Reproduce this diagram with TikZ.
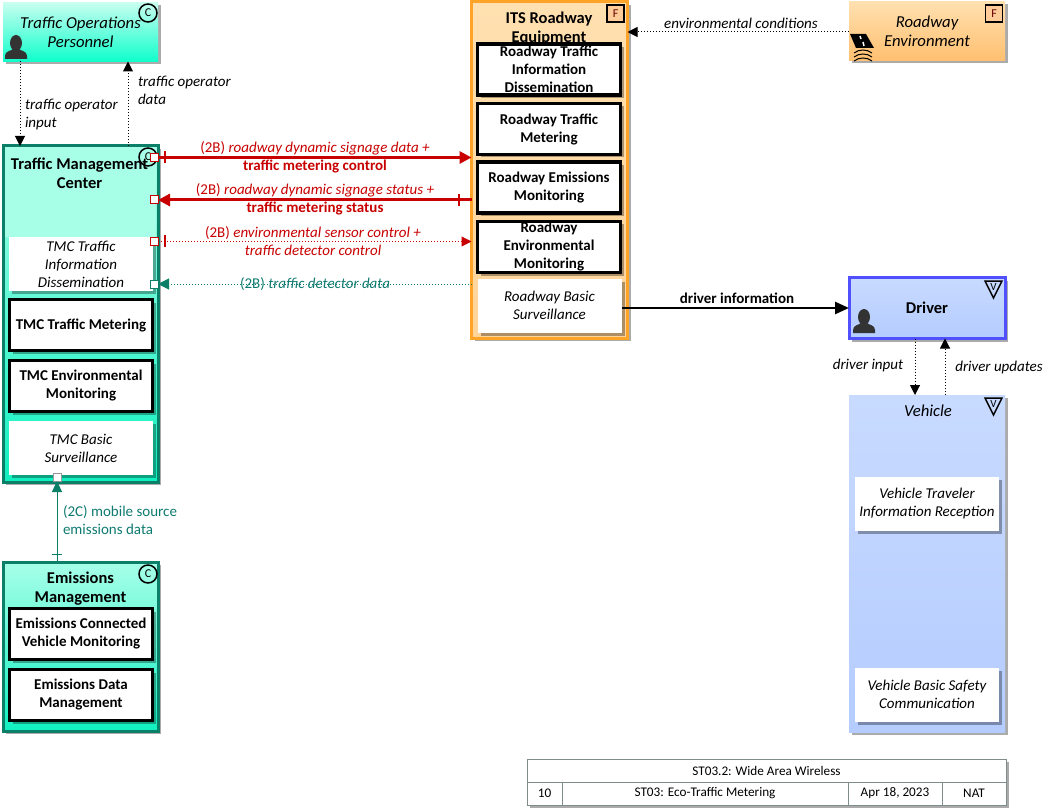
\documentclass[tikz,border=0pt]{standalone}
\usepackage{fontspec}
\setmainfont{Carlito}
\usepackage{tikz}
\usetikzlibrary{arrows.meta, shadows, calc}
\definecolor{tealline}{HTML}{0B7F68}
\definecolor{tealtext}{HTML}{0F7A70}
\definecolor{tealtop}{HTML}{A8FFE8}
\definecolor{tealbottom}{HTML}{10F0C0}
\definecolor{optop}{HTML}{C8FFF0}
\definecolor{opbottom}{HTML}{10FFCC}
\definecolor{redline}{HTML}{C80000}
\definecolor{orangeline}{HTML}{FFA426}
\definecolor{orangetop}{HTML}{FFE0B0}
\definecolor{orangebottom}{HTML}{FFC070}
\definecolor{itsbottom}{HTML}{FFD498}
\definecolor{blueline}{HTML}{5050FF}
\definecolor{bluetop}{HTML}{C8DAFF}
\definecolor{bluebottom}{HTML}{B4CCFF}
\definecolor{tablegray}{HTML}{7F8C8C}
\tikzset{
  shadowed/.style={drop shadow={shadow xshift=3pt,shadow yshift=-3pt,fill=black,opacity=.33}},
  base/.style={inner sep=0pt,outer sep=0pt,align=center,font=\fontsize{15}{18}\selectfont},
  subbox/.style={base,shadowed,fill=white,draw=black,line width=3.3pt,minimum width=143pt,minimum height=51pt,font=\fontsize{15}{18}\selectfont\bfseries},
  softbox/.style={base,shadowed,fill=white,minimum width=144pt,minimum height=54pt,font=\fontsize{15}{18}\selectfont\itshape},
  badge/.style={base,draw=black,line width=1.5pt,font=\fontsize{12}{12}\selectfont},
  port/.style={draw=#1,fill=white,line width=1pt,minimum size=8pt,inner sep=0pt,outer sep=0pt},
  label/.style={base,font=\fontsize{15}{18}\selectfont\itshape},
  flowdot/.style={line width=1pt,dash pattern=on 1pt off 2pt},
  cell/.style={base,draw=tablegray,line width=1pt,fill=white,minimum height=23pt,font=\fontsize{13.2}{14}\selectfont},
  person/.pic={
    \fill[black!80] (0,-16) ellipse (6 and 8);
    \fill[black!80] (-11,0) -- (-11,-3) .. controls (-11,-8) and (-5,-8) .. (-3,-10) -- (3,-10) .. controls (5,-8) and (11,-8) .. (11,-3) -- (11,0) -- cycle;
  }
}
\begin{document}
\begin{tikzpicture}[x=1pt,y=-1pt]
\useasboundingbox (0,0) rectangle (1051,810);
% top row actors
\node[base,shadowed,top color=optop,bottom color=opbottom,minimum width=155pt,minimum height=59pt,font=\fontsize{16.7}{19}\selectfont\itshape] (top) at (80.5,32) {Traffic Operations\\Personnel};
\node[base,shadowed,top color=orangetop,bottom color=orangebottom,minimum width=156pt,minimum height=59pt,font=\fontsize{16.7}{19}\selectfont\itshape] (env) at (927,31) {Roadway\\Environment};
\node[badge,circle,minimum size=18pt] (topbadge) at (148,13) {C};
\node[badge,fill=orange!40!white,text=black!60!red,minimum size=17pt] (envbadge) at (994,13.5) {F};
\pic at (16,59) {person};
% road icon
\fill[black] (850,34) -- (866,34) -- (874,48) -- (856,48) -- cycle;
\draw[white,line width=1.5pt] (860,36) -- (861,39) (863,42) -- (864,46);
\draw[black,line width=1pt] (854,53) .. controls (859,49) and (867,49) .. (872,53) (854,57) .. controls (859,53) and (867,53) .. (872,57) (854,61) .. controls (859,57) and (867,57) .. (872,61);
% traffic management center
\node[base,shadowed,draw=tealline,line width=3pt,top color=tealtop,bottom color=tealbottom,minimum width=155pt,minimum height=336pt] (tmc) at (80.5,314) {};
\fill[tealtop] (5,148) rectangle (156,237);
\node[base,font=\fontsize{16.5}{19}\selectfont\bfseries] (tmctitle) at (79.5,173) {Traffic Management\\Center};
\node[badge,circle,minimum size=18pt] (tmcbadge) at (148,157) {C};
\node[softbox] (tmcinfo) at (81,264) {TMC Traffic\\Information\\Dissemination};
\node[subbox] (tmcmeter) at (81,325) {TMC Traffic Metering};
\node[subbox] (tmcenv) at (81,386) {TMC Environmental\\Monitoring};
\node[softbox] (tmcbasic) at (81,448) {TMC Basic\\Surveillance};
% emissions management
\node[base,shadowed,draw=tealline,line width=3pt,top color=tealtop,bottom color=tealbottom,minimum width=155pt,minimum height=169pt] (emm) at (80.5,646.5) {};
\node[base,font=\fontsize{16.5}{19}\selectfont\bfseries] (emmtitle) at (80.5,589) {Emissions\\Management};
\node[badge,circle,minimum size=18pt] (emmbadge) at (148,574) {C};
\node[subbox] (emmcv) at (81,634) {Emissions Connected\\Vehicle Monitoring};
\node[subbox] (emmdata) at (81,695) {Emissions Data\\Management};
% its roadway equipment
\node[base,shadowed,draw=orangeline,line width=3pt,top color=orangetop,bottom color=itsbottom,minimum width=156pt,minimum height=336pt] (its) at (549.5,170) {};
\node[base,font=\fontsize{16.5}{19}\selectfont\bfseries] (itstitle) at (549,28.5) {ITS Roadway\\Equipment};
\node[badge,fill=orange!40!white,text=black!60!red,minimum size=17pt] (itsbadge) at (615.5,13.5) {F};
\node[subbox] (rsinfo) at (549,69.5) {Roadway Traffic\\Information\\Dissemination};
\node[subbox] (rsmeter) at (549,129) {Roadway Traffic\\Metering};
\node[subbox] (rsemis) at (549,187.5) {Roadway Emissions\\Monitoring};
\node[subbox] (rsenv) at (549,247) {Roadway\\Environmental\\Monitoring};
\node[softbox] (rsbasic) at (549.5,305.5) {Roadway Basic\\Surveillance};
% driver and vehicle
\node[base,shadowed,draw=blueline,line width=3pt,top color=bluetop,bottom color=bluebottom,minimum width=156pt,minimum height=61pt,font=\fontsize{16.5}{19}\selectfont\bfseries] (drv) at (927,308) {Driver};
\pic at (864,333) {person};
\node[base,shadowed,top color=bluetop,bottom color=bluebottom,minimum width=156pt,minimum height=337pt] (veh) at (927,563.5) {};
\node[label,font=\fontsize{16.7}{19}\selectfont\itshape] (vehtitle) at (928,411) {Vehicle};
\node[softbox] (vehinfo) at (927,503.5) {Vehicle Traveler\\Information Reception};
\node[softbox] (vehsafe) at (927,694.5) {Vehicle Basic Safety\\Communication};
\foreach \y/\n in {281/drvbadge,398/vehbadge} {
  \draw[black,line width=1.5pt] (985,\y) -- (1002,\y) -- (993.5,\y+17) -- cycle;
  \node[base,font=\fontsize{11}{11}\selectfont] (\n) at (993.5,\y+6) {V};
}
% ports
\node[port=redline] (p1) at (154,157.5) {};
\node[port=redline] (p2) at (154,200) {};
\node[port=redline] (p3) at (154,241.5) {};
\node[port=tealline] (p4) at (154,284) {};
\node[port=black!40] (p5) at (57,477) {};
% flows
\draw[redline,line width=3pt,-{Triangle[length=12pt,width=12pt]}] (p1) -- (p1 -| its.west);
\draw[redline,line width=1.5pt] ([shift={(11,-6)}]p1.center) -- ++(0,12);
\draw[redline,line width=3pt,-{Triangle[length=12pt,width=12pt]}] (p2 -| its.west) -- (p2);
\draw[redline,line width=2pt] ([shift={(305,-6)}]p2.center) -- ++(0,12);
\draw[redline,flowdot,-{Triangle[length=10pt,width=10pt]}] (p3) -- (p3 -| its.west);
\draw[redline,line width=1.2pt] ([shift={(11,-6)}]p3.center) -- ++(0,12);
\draw[tealline,flowdot,-{Triangle[length=11pt,width=11pt]}] (p4 -| its.west) -- (p4);
\draw[black,line width=2.5pt,-{Triangle[length=14pt,width=12pt]}] (rsbasic.east |- drv.west) -- (drv.west);
\draw[black,flowdot,-{Triangle[length=10pt,width=10pt]}] (env.west |- 0,32) -- (its.east |- 0,32);
\draw[black,flowdot,-{Triangle[length=10pt,width=10pt]}] (top.south -| 20,0) -- (tmc.north -| 20,0);
\draw[black,flowdot,-{Triangle[length=10pt,width=10pt]}] (tmc.north -| 128,0) -- (top.south -| 128,0);
\draw[black,flowdot,-{Triangle[length=10pt,width=10pt]}] (drv.south -| 915,0) -- (veh.north -| 915,0);
\draw[black,flowdot,-{Triangle[length=10pt,width=10pt]}] (veh.north -| 945,0) -- (drv.south -| 945,0);
\draw[tealline,line width=1pt,-{Triangle[length=11pt,width=10pt]}] (emm.north -| p5) -- (p5);
\draw[tealline,line width=1pt] ($(emm.north -| p5)+(-5,-8)$) -- ++(10,0);
% flow labels
\node[label,align=left,anchor=west] (optin) at (25,115) {traffic operator\\input};
\node[label,align=left,anchor=west] (optout) at (138,90.5) {traffic operator\\data};
\node[label,text=redline,font=\fontsize{15}{18}\selectfont] (l1) at (315,157.5) {(2B) \textit{roadway dynamic signage data +}\\\textbf{traffic metering control}};
\node[label,text=redline,font=\fontsize{15}{18}\selectfont] (l2) at (315,199.5) {(2B) \textit{roadway dynamic signage status +}\\\textbf{traffic metering status}};
\node[label,text=redline] (l3) at (313,241.5) {\upshape(2B) \itshape environmental sensor control +\\traffic detector control};
\node[label,text=tealtext] (l4) at (315,284) {\upshape(2B) \itshape traffic detector data};
\node[label,font=\fontsize{15}{18}\selectfont\bfseries] (l5) at (737,298.5) {driver information};
\node[label] (l6) at (741,23.5) {environmental conditions};
\node[label] (l7) at (868,365.5) {driver input};
\node[label] (l8) at (999,367.5) {driver updates};
\node[label,align=left,anchor=west,text=tealtext,font=\fontsize{15}{18}\selectfont] (l9) at (63,520.5) {(2C) mobile source\\emissions data};
% title table
\node[cell,shadowed,minimum width=479pt] (t0) at (766.5,770.5) {ST03.2: Wide Area Wireless};
\node[cell,shadowed,minimum width=35pt] (t1) at (544.5,793.5) {10};
\node[cell,shadowed,minimum width=286pt] (t2) at (705,793.5) {ST03: Eco-Traffic Metering};
\node[cell,shadowed,minimum width=94pt] (t3) at (895,793.5) {Apr 18, 2023};
\node[cell,shadowed,minimum width=64pt] (t4) at (974,793.5) {NAT};
\end{tikzpicture}
\end{document}
